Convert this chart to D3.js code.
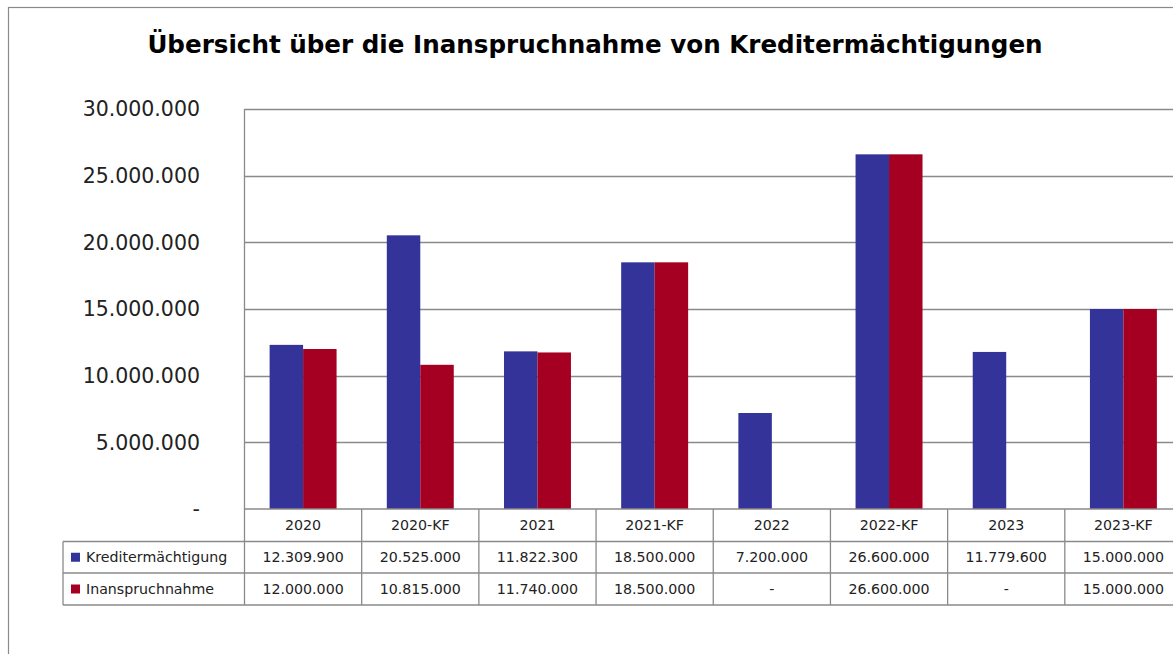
<!DOCTYPE html>
<html lang="de">
  <head>
    <meta charset="utf-8">
    <title>Kreditermächtigungen</title>
    <script src="https://d3js.org/d3.v7.min.js"></script>
    <style>
      body { margin: 0; background: #fff; }
    </style>
  </head>
<body>

<script>
// data
var categories = ["2020", "2020-KF", "2021", "2021-KF", "2022", "2022-KF", "2023", "2023-KF"];
var kreditermaechtigung = [12309900, 20525000, 11822300, 18500000, 7200000, 26600000, 11779600, 15000000];
var inanspruchnahme = [12000000, 10815000, 11740000, 18500000, 0, 26600000, 0, 15000000];
var seriesNames = ["Kreditermächtigung", "Inanspruchnahme"];
var seriesColors = ["#333399", "#A50021"];
var yTicks = [0, 5000000, 10000000, 15000000, 20000000, 25000000, 30000000];

function drawChart() {
    var W = 1173, H = 654;
    var pLeft = 244.5, pRight = 1182, pTop = 109, pBottom = 509;
    var rowY = [509, 541.5, 573, 605];
    var tableLeft = 63;
    var lineColor = "#8a8a8a";

    var de = d3.formatLocale({decimal: ",", thousands: ".", grouping: [3], currency: ["", " €"]});
    var fmt = v => v === 0 ? "-" : de.format(",")(v);

    var svg = d3.select("body").append("svg")
        .attr("width", W)
        .attr("height", H);

    // outer chart frame
    svg.append("rect")
        .attr("x", 8.5).attr("y", 7.5)
        .attr("width", 1200).attr("height", 700)
        .attr("fill", "#fff")
        .attr("stroke", "#8a8a8a")
        .attr("stroke-width", 1.2);

    svg.append("text")
        .attr("x", 595)
        .attr("y", 53)
        .attr("text-anchor", "middle")
        .attr("font-family", "DejaVu Sans")
        .attr("font-weight", "bold")
        .attr("font-size", 24.6)
        .attr("fill", "#000")
        .text("Übersicht über die Inanspruchnahme von Kreditermächtigungen");

    var x = d3.scaleBand().domain(categories).range([pLeft, pRight]);
    var barW = x.bandwidth() / 3.5;
    var xs = d3.scaleBand().domain(seriesNames).range([0, 2 * barW]);
    var y = d3.scaleLinear().domain([0, 30000000]).range([pBottom, pTop]);

    // gridlines
    svg.append("g").selectAll("line")
        .data(yTicks.slice(1))
        .join("line")
        .attr("x1", pLeft).attr("x2", W + 20)
        .attr("y1", d => Math.round(y(d)) + 0.5)
        .attr("y2", d => Math.round(y(d)) + 0.5)
        .attr("stroke", lineColor)
        .attr("stroke-width", 1.3);

    // y labels
    svg.append("g").selectAll("text")
        .data(yTicks)
        .join("text")
        .attr("x", 200)
        .attr("y", d => y(d))
        .attr("dy", "0.36em")
        .attr("text-anchor", "end")
        .attr("font-family", "DejaVu Sans")
        .attr("font-size", 20.5)
        .attr("fill", "#222")
        .text(d => d === 0 ? "-" : de.format(",")(d));

    // bars
    var series = [kreditermaechtigung, inanspruchnahme];
    series.forEach((vals, si) => {
        svg.append("g").selectAll("rect")
            .data(vals.map((v, i) => ({cat: categories[i], v: v})).filter(d => d.v > 0))
            .join("rect")
            .attr("x", d => x(d.cat) + x.bandwidth() / 2 - barW + xs(seriesNames[si]))
            .attr("y", d => y(d.v))
            .attr("width", xs.bandwidth())
            .attr("height", d => pBottom - y(d.v))
            .attr("fill", seriesColors[si]);
    });

    // data table
    var tbl = svg.append("g").attr("stroke", lineColor).attr("stroke-width", 1.3);
    tbl.append("line").attr("x1", pLeft).attr("x2", W + 20).attr("y1", rowY[0]).attr("y2", rowY[0]);
    rowY.slice(1).forEach(ry => {
        tbl.append("line").attr("x1", tableLeft).attr("x2", W + 20).attr("y1", ry).attr("y2", ry);
    });
    tbl.append("line").attr("x1", tableLeft).attr("x2", tableLeft).attr("y1", rowY[1]).attr("y2", rowY[3]);
    tbl.append("line").attr("x1", pLeft).attr("x2", pLeft).attr("y1", pTop).attr("y2", rowY[3]);
    categories.forEach(c => {
        var xe = x(c) + x.bandwidth();
        tbl.append("line").attr("x1", xe).attr("x2", xe).attr("y1", rowY[0]).attr("y2", rowY[3]);
    });

    var tfont = "DejaVu Sans";
    var tsize = 14.2;

    svg.append("g").selectAll("text")
        .data(categories)
        .join("text")
        .attr("x", d => x(d) + x.bandwidth() / 2)
        .attr("y", (rowY[0] + rowY[1]) / 2)
        .attr("dy", "0.36em")
        .attr("text-anchor", "middle")
        .attr("font-family", tfont)
        .attr("font-size", tsize)
        .attr("fill", "#222")
        .text(d => d);

    series.forEach((vals, si) => {
        var cy = (rowY[si + 1] + rowY[si + 2]) / 2;
        var row = svg.append("g");
        row.append("rect")
            .attr("x", 71).attr("y", cy - 4.5)
            .attr("width", 9).attr("height", 9)
            .attr("fill", seriesColors[si]);
        row.append("text")
            .attr("x", 86)
            .attr("y", cy)
            .attr("dy", "0.36em")
            .attr("font-family", tfont)
            .attr("font-size", tsize)
            .attr("fill", "#222")
            .text(seriesNames[si]);
        row.selectAll("text.v")
            .data(vals)
            .join("text")
            .attr("class", "v")
            .attr("x", (d, i) => x(categories[i]) + x.bandwidth() / 2)
            .attr("y", cy)
            .attr("dy", "0.36em")
            .attr("text-anchor", "middle")
            .attr("font-family", tfont)
            .attr("font-size", tsize)
            .attr("fill", "#222")
            .text(d => fmt(d));
    });
}

drawChart();
</script>
</body>
</html>
